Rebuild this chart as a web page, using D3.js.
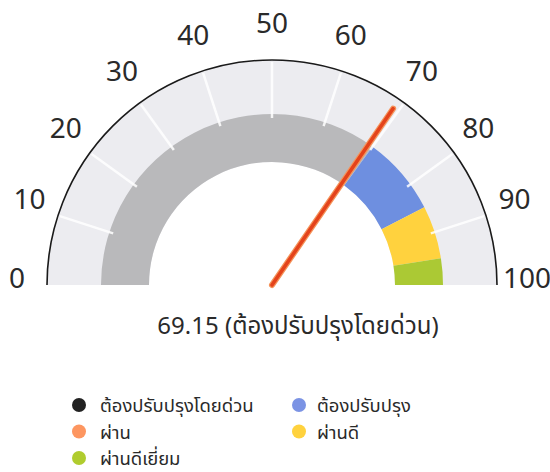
<!DOCTYPE html>
<html>
<head>
<meta charset="utf-8">
<script src="https://cdn.jsdelivr.net/npm/d3@7"></script>
<style>
  body { margin: 0; background: #fff; }
  svg { display: block; font-family: "Noto Sans Thai", "Noto Sans", sans-serif; }
</style>
</head>
<body>
<svg id="chart" width="550" height="472"></svg>
<script>
// gauge value and bands
const value = 69.15;
const valueLabel = "ต้องปรับปรุงโดยด่วน";
const bandFrom = [0, 70, 85, 95];
const bandTo = [70, 85, 95, 100];
const bandColors = ["#b9b9bb", "#6e8fe0", "#ffd23e", "#abc934"];
const tickValues = [0, 10, 20, 30, 40, 50, 60, 70, 80, 90, 100];

// legend
const legendNames = ["ต้องปรับปรุงโดยด่วน", "ต้องปรับปรุง", "ผ่าน", "ผ่านดี", "ผ่านดีเยี่ยม"];
const legendColors = ["#222222", "#7b93e4", "#fd9660", "#ffd23e", "#b0cc2e"];

const svg = d3.select("#chart");
const cx = 272, cy = 285;
const rOuter = 225, rBandOut = 171, rBandIn = 123, rLabel = 255;

const angle = d3.scaleLinear().domain([0, 100]).range([-Math.PI / 2, Math.PI / 2]);
const px = (v, r) => cx + r * Math.sin(angle(v));
const py = (v, r) => cy - r * Math.cos(angle(v));

const g = svg.append("g").attr("transform", `translate(${cx},${cy})`);

// light background band
g.append("path")
  .attr("d", d3.arc()({innerRadius: rBandIn, outerRadius: rOuter,
    startAngle: angle(0), endAngle: angle(100)}))
  .attr("fill", "#ececf0");

// white tick lines across the light band
svg.selectAll(".tick-line")
  .data(tickValues.filter(d => d > 0 && d < 100))
  .join("line")
  .attr("x1", d => px(d, rBandOut - 4))
  .attr("y1", d => py(d, rBandOut - 4))
  .attr("x2", d => px(d, rOuter - 2))
  .attr("y2", d => py(d, rOuter - 2))
  .attr("stroke", "#fff")
  .attr("stroke-opacity", 0.85)
  .attr("stroke-width", 2.5);

// colored bands
g.selectAll(".band")
  .data(bandFrom.map((d, i) => ({from: d, to: bandTo[i], color: bandColors[i]})))
  .join("path")
  .attr("d", d => d3.arc()({innerRadius: rBandIn, outerRadius: rBandOut,
    startAngle: angle(d.from), endAngle: angle(d.to)}))
  .attr("fill", d => d.color);

// outer black arc
const p = d3.path();
p.arc(0, 0, rOuter, Math.PI, 2 * Math.PI);
g.append("path")
  .attr("d", p.toString())
  .attr("fill", "none")
  .attr("stroke", "#1a1a1a")
  .attr("stroke-width", 1.6);

// tick labels
svg.selectAll(".tick-label")
  .data(tickValues)
  .join("text")
  .attr("x", d => px(d, rLabel))
  .attr("y", d => py(d, rLabel) - 6)
  .attr("text-anchor", "middle")
  .attr("dominant-baseline", "central")
  .attr("font-size", 28)
  .attr("fill", "#2a2a2a")
  .text(d => d);

// needle
const needleR = 214;
svg.append("line")
  .attr("x1", cx).attr("y1", cy)
  .attr("x2", px(value, needleR)).attr("y2", py(value, needleR))
  .attr("stroke", "#f5935a")
  .attr("stroke-width", 6)
  .attr("stroke-linecap", "round");
svg.append("line")
  .attr("x1", cx).attr("y1", cy)
  .attr("x2", px(value, needleR)).attr("y2", py(value, needleR))
  .attr("stroke", "#e4431b")
  .attr("stroke-width", 3.5)
  .attr("stroke-linecap", "round");

// value title
svg.append("text")
  .attr("x", 298)
  .attr("y", 334)
  .attr("text-anchor", "middle")
  .attr("font-size", 24)
  .attr("fill", "#2a2a2a")
  .text(`${value} (${valueLabel})`);

// legend
const legend = svg.append("g");
const items = legend.selectAll("g")
  .data(legendNames.map((d, i) => ({name: d, color: legendColors[i], i})))
  .join("g")
  .attr("transform", d => `translate(${d.i % 2 === 0 ? 79 : 299},${405 + Math.floor(d.i / 2) * 26.5})`);
items.append("circle")
  .attr("r", 7)
  .attr("fill", d => d.color);
items.append("text")
  .attr("x", d => d.i % 2 === 0 ? 21 : 18)
  .attr("y", 7)
  .attr("font-size", 18.5)
  .attr("fill", "#2a2a2a")
  .text(d => d.name);
</script>
</body>
</html>
